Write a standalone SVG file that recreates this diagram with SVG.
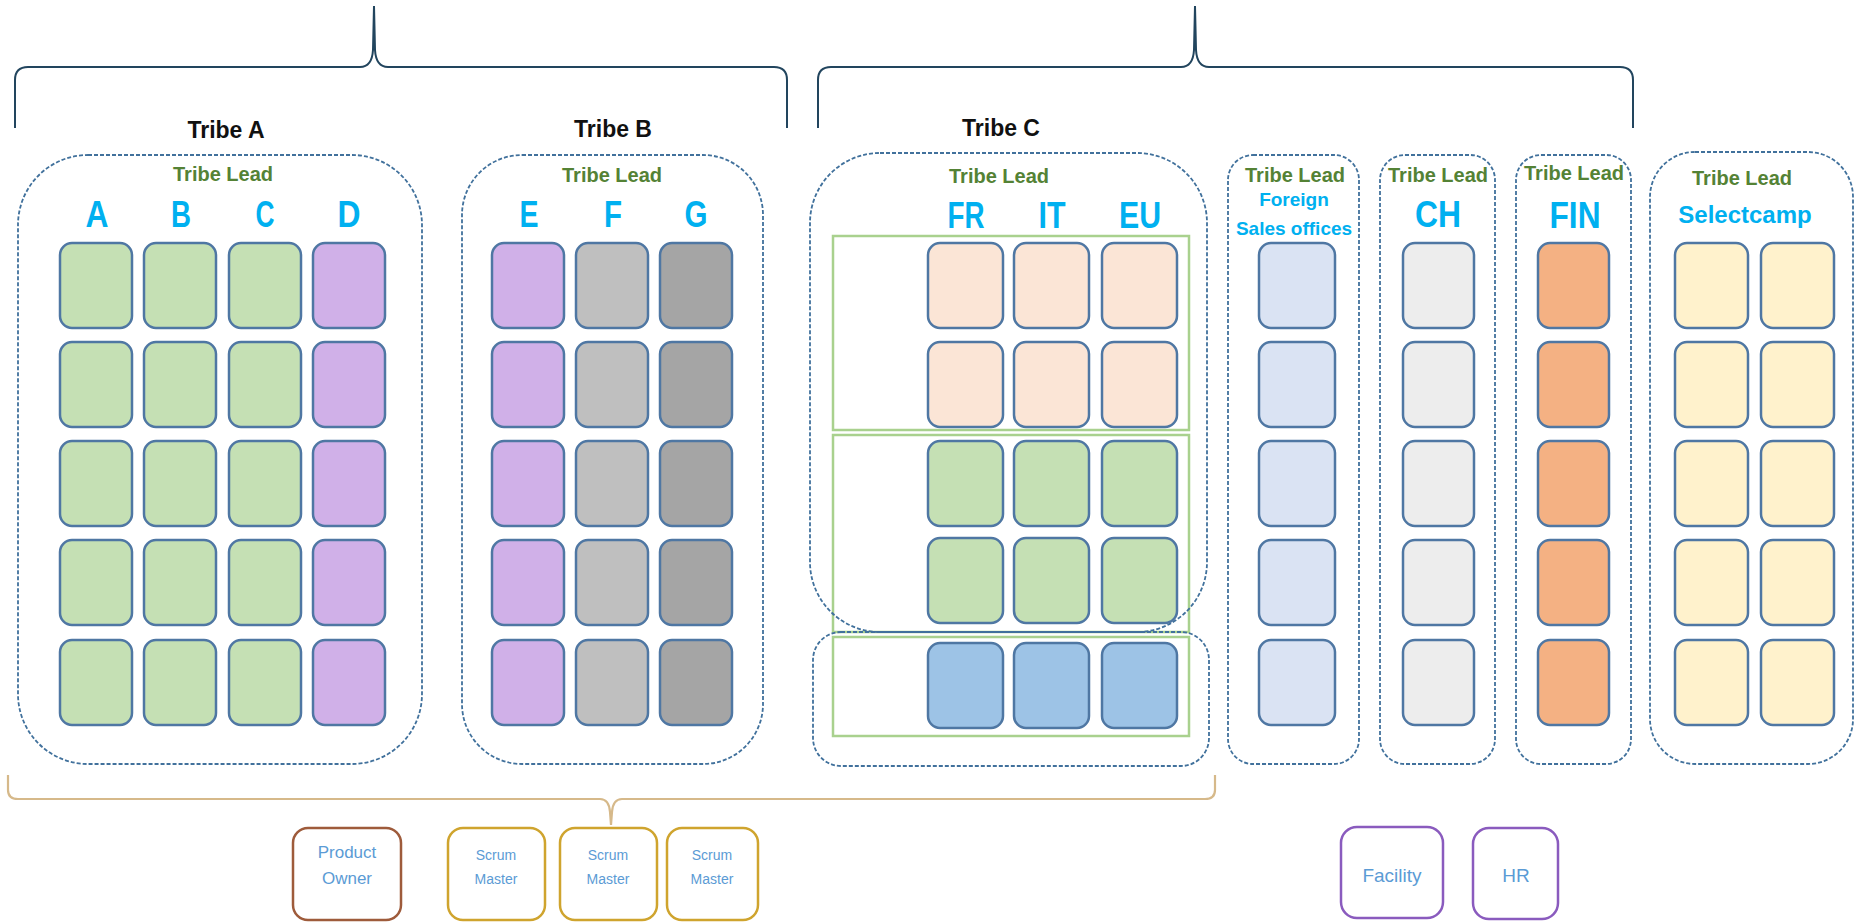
<svg xmlns="http://www.w3.org/2000/svg" width="1855" height="922" viewBox="0 0 1855 922">
<style>
.tile{stroke:#4F77A3;stroke-width:2.5}
.cont{fill:none;stroke:#41719C;stroke-width:1.8;stroke-dasharray:4 2}
.frame{fill:none;stroke:#A9D18E;stroke-width:2.5}
.brace{fill:none;stroke:#22455E;stroke-width:2}
.brace2{fill:none;stroke:#D6B98A;stroke-width:2.2}
.title{font-family:"Liberation Sans",Arial,sans-serif;font-weight:bold;font-size:23px;fill:#111;text-anchor:middle}
.lead{font-family:"Liberation Sans",Arial,sans-serif;font-weight:bold;font-size:20px;fill:#548235;text-anchor:middle}
.big{font-family:"Liberation Sans Narrow","Liberation Sans",Arial,sans-serif;font-weight:bold;font-size:37px;fill:#00B0F0;text-anchor:middle}
.blu{font-family:"Liberation Sans",Arial,sans-serif;font-weight:bold;fill:#00B0F0;text-anchor:middle}
.role{font-family:"Liberation Sans",Arial,sans-serif;fill:#5B9BD5;text-anchor:middle}
.g{fill:#C5E0B4}.p{fill:#D0B0E8}.lg{fill:#BFBFBF}.dg{fill:#A5A5A5}.pe{fill:#FBE5D6}.bl{fill:#9DC3E6}.lb{fill:#DAE3F3}.vg{fill:#EDEDED}.or{fill:#F4B183}.ye{fill:#FFF2CC}
</style>

<g id="connectors">
<path class="brace" d="M15,128 L15,80 Q15,67 28,67 L360,67 Q372,67 373,50 L374,6 L375,50 Q376,67 388,67 L774,67 Q787,67 787,80 L787,128"/>
<path class="brace" d="M818,128 L818,80 Q818,67 831,67 L1181,67 Q1193,67 1194,50 L1195,6 L1196,50 Q1197,67 1209,67 L1620,67 Q1633,67 1633,80 L1633,128"/>
<path class="brace2" d="M8,775 L8,790 Q8,799 18,799 L600,799 Q609,799 610,812 L611,825 L612,812 Q613,799 622,799 L1205,799 Q1215,799 1215,790 L1215,775"/>
</g>

<g id="tribeA">
<text class="title" x="226" y="138">Tribe A</text>
<rect class="cont" x="18" y="155" width="404" height="609" rx="70"/>
<text class="lead" x="223" y="181">Tribe Lead</text>
<text class="big" x="97" y="227" textLength="23" lengthAdjust="spacingAndGlyphs">A</text>
<text class="big" x="181" y="227" textLength="20" lengthAdjust="spacingAndGlyphs">B</text>
<text class="big" x="265" y="227" textLength="19" lengthAdjust="spacingAndGlyphs">C</text>
<text class="big" x="349" y="227" textLength="23" lengthAdjust="spacingAndGlyphs">D</text>
<g class="tile">
<rect class="g" x="60" y="243" width="72" height="85" rx="12"/><rect class="g" x="144" y="243" width="72" height="85" rx="12"/><rect class="g" x="229" y="243" width="72" height="85" rx="12"/><rect class="p" x="313" y="243" width="72" height="85" rx="12"/>
<rect class="g" x="60" y="342" width="72" height="85" rx="12"/><rect class="g" x="144" y="342" width="72" height="85" rx="12"/><rect class="g" x="229" y="342" width="72" height="85" rx="12"/><rect class="p" x="313" y="342" width="72" height="85" rx="12"/>
<rect class="g" x="60" y="441" width="72" height="85" rx="12"/><rect class="g" x="144" y="441" width="72" height="85" rx="12"/><rect class="g" x="229" y="441" width="72" height="85" rx="12"/><rect class="p" x="313" y="441" width="72" height="85" rx="12"/>
<rect class="g" x="60" y="540" width="72" height="85" rx="12"/><rect class="g" x="144" y="540" width="72" height="85" rx="12"/><rect class="g" x="229" y="540" width="72" height="85" rx="12"/><rect class="p" x="313" y="540" width="72" height="85" rx="12"/>
<rect class="g" x="60" y="640" width="72" height="85" rx="12"/><rect class="g" x="144" y="640" width="72" height="85" rx="12"/><rect class="g" x="229" y="640" width="72" height="85" rx="12"/><rect class="p" x="313" y="640" width="72" height="85" rx="12"/>
</g>
</g>

<g id="tribeB">
<text class="title" x="613" y="137">Tribe B</text>
<rect class="cont" x="462" y="155" width="301" height="609" rx="60"/>
<text class="lead" x="612" y="182">Tribe Lead</text>
<text class="big" x="529" y="227" textLength="19" lengthAdjust="spacingAndGlyphs">E</text>
<text class="big" x="613" y="227" textLength="18" lengthAdjust="spacingAndGlyphs">F</text>
<text class="big" x="696" y="227" textLength="23" lengthAdjust="spacingAndGlyphs">G</text>
<g class="tile">
<rect class="p" x="492" y="243" width="72" height="85" rx="12"/><rect class="lg" x="576" y="243" width="72" height="85" rx="12"/><rect class="dg" x="660" y="243" width="72" height="85" rx="12"/>
<rect class="p" x="492" y="342" width="72" height="85" rx="12"/><rect class="lg" x="576" y="342" width="72" height="85" rx="12"/><rect class="dg" x="660" y="342" width="72" height="85" rx="12"/>
<rect class="p" x="492" y="441" width="72" height="85" rx="12"/><rect class="lg" x="576" y="441" width="72" height="85" rx="12"/><rect class="dg" x="660" y="441" width="72" height="85" rx="12"/>
<rect class="p" x="492" y="540" width="72" height="85" rx="12"/><rect class="lg" x="576" y="540" width="72" height="85" rx="12"/><rect class="dg" x="660" y="540" width="72" height="85" rx="12"/>
<rect class="p" x="492" y="640" width="72" height="85" rx="12"/><rect class="lg" x="576" y="640" width="72" height="85" rx="12"/><rect class="dg" x="660" y="640" width="72" height="85" rx="12"/>
</g>
</g>

<g id="tribeC">
<text class="title" x="1001" y="136">Tribe C</text>
<rect class="frame" x="833" y="236" width="356" height="194"/>
<rect class="frame" x="833" y="435" width="356" height="197"/>
<rect class="frame" x="833" y="637" width="356" height="99"/>
<rect class="cont" x="810" y="153" width="397" height="479" rx="70"/>
<rect class="cont" x="813" y="632" width="396" height="134" rx="28"/>
<text class="lead" x="999" y="183">Tribe Lead</text>
<text class="big" x="966" y="228" textLength="37" lengthAdjust="spacingAndGlyphs">FR</text>
<text class="big" x="1052" y="228" textLength="27" lengthAdjust="spacingAndGlyphs">IT</text>
<text class="big" x="1140" y="228" textLength="42" lengthAdjust="spacingAndGlyphs">EU</text>
<g class="tile">
<rect class="pe" x="928" y="243" width="75" height="85" rx="12"/><rect class="pe" x="1014" y="243" width="75" height="85" rx="12"/><rect class="pe" x="1102" y="243" width="75" height="85" rx="12"/>
<rect class="pe" x="928" y="342" width="75" height="85" rx="12"/><rect class="pe" x="1014" y="342" width="75" height="85" rx="12"/><rect class="pe" x="1102" y="342" width="75" height="85" rx="12"/>
<rect class="g" x="928" y="441" width="75" height="85" rx="12"/><rect class="g" x="1014" y="441" width="75" height="85" rx="12"/><rect class="g" x="1102" y="441" width="75" height="85" rx="12"/>
<rect class="g" x="928" y="538" width="75" height="85" rx="12"/><rect class="g" x="1014" y="538" width="75" height="85" rx="12"/><rect class="g" x="1102" y="538" width="75" height="85" rx="12"/>
<rect class="bl" x="928" y="643" width="75" height="85" rx="12"/><rect class="bl" x="1014" y="643" width="75" height="85" rx="12"/><rect class="bl" x="1102" y="643" width="75" height="85" rx="12"/>
</g>
</g>

<g id="foreign">
<rect class="cont" x="1228" y="155" width="131" height="609" rx="25"/>
<text class="lead" x="1295" y="182">Tribe Lead</text>
<text class="blu" x="1294" y="206" font-size="19">Foreign</text>
<text class="blu" x="1294" y="235" font-size="19">Sales offices</text>
<g class="tile">
<rect class="lb" x="1259" y="243" width="76" height="85" rx="12"/>
<rect class="lb" x="1259" y="342" width="76" height="85" rx="12"/>
<rect class="lb" x="1259" y="441" width="76" height="85" rx="12"/>
<rect class="lb" x="1259" y="540" width="76" height="85" rx="12"/>
<rect class="lb" x="1259" y="640" width="76" height="85" rx="12"/>
</g>
</g>

<g id="ch">
<rect class="cont" x="1380" y="155" width="115" height="609" rx="25"/>
<text class="lead" x="1438" y="182">Tribe Lead</text>
<text class="big" x="1438" y="227" textLength="46" lengthAdjust="spacingAndGlyphs">CH</text>
<g class="tile">
<rect class="vg" x="1403" y="243" width="71" height="85" rx="12"/>
<rect class="vg" x="1403" y="342" width="71" height="85" rx="12"/>
<rect class="vg" x="1403" y="441" width="71" height="85" rx="12"/>
<rect class="vg" x="1403" y="540" width="71" height="85" rx="12"/>
<rect class="vg" x="1403" y="640" width="71" height="85" rx="12"/>
</g>
</g>

<g id="fin">
<rect class="cont" x="1516" y="155" width="115" height="609" rx="25"/>
<text class="lead" x="1574" y="180">Tribe Lead</text>
<text class="big" x="1575" y="228" textLength="51" lengthAdjust="spacingAndGlyphs">FIN</text>
<g class="tile">
<rect class="or" x="1538" y="243" width="71" height="85" rx="12"/>
<rect class="or" x="1538" y="342" width="71" height="85" rx="12"/>
<rect class="or" x="1538" y="441" width="71" height="85" rx="12"/>
<rect class="or" x="1538" y="540" width="71" height="85" rx="12"/>
<rect class="or" x="1538" y="640" width="71" height="85" rx="12"/>
</g>
</g>

<g id="selectcamp">
<rect class="cont" x="1650" y="152" width="203" height="612" rx="45"/>
<text class="lead" x="1742" y="185">Tribe Lead</text>
<text class="blu" x="1745" y="223" font-size="24">Selectcamp</text>
<g class="tile">
<rect class="ye" x="1675" y="243" width="73" height="85" rx="12"/><rect class="ye" x="1761" y="243" width="73" height="85" rx="12"/>
<rect class="ye" x="1675" y="342" width="73" height="85" rx="12"/><rect class="ye" x="1761" y="342" width="73" height="85" rx="12"/>
<rect class="ye" x="1675" y="441" width="73" height="85" rx="12"/><rect class="ye" x="1761" y="441" width="73" height="85" rx="12"/>
<rect class="ye" x="1675" y="540" width="73" height="85" rx="12"/><rect class="ye" x="1761" y="540" width="73" height="85" rx="12"/>
<rect class="ye" x="1675" y="640" width="73" height="85" rx="12"/><rect class="ye" x="1761" y="640" width="73" height="85" rx="12"/>
</g>
</g>

<g id="productOwner">
<rect x="293" y="828" width="108" height="92" rx="15" fill="#fff" stroke="#9E5B3B" stroke-width="2.5"/>
<text class="role" x="347" y="858" font-size="17">Product</text>
<text class="role" x="347" y="884" font-size="17">Owner</text>
</g>
<g id="scrum1">
<rect x="448" y="828" width="97" height="92" rx="15" fill="#fff" stroke="#CFA42E" stroke-width="2.5"/>
<text class="role" x="496" y="860" font-size="14">Scrum</text>
<text class="role" x="496" y="884" font-size="14">Master</text>
</g>
<g id="scrum2">
<rect x="560" y="828" width="97" height="92" rx="15" fill="#fff" stroke="#CFA42E" stroke-width="2.5"/>
<text class="role" x="608" y="860" font-size="14">Scrum</text>
<text class="role" x="608" y="884" font-size="14">Master</text>
</g>
<g id="scrum3">
<rect x="667" y="828" width="91" height="92" rx="15" fill="#fff" stroke="#CFA42E" stroke-width="2.5"/>
<text class="role" x="712" y="860" font-size="14">Scrum</text>
<text class="role" x="712" y="884" font-size="14">Master</text>
</g>
<g id="facility">
<rect x="1341" y="827" width="102" height="91" rx="16" fill="#fff" stroke="#8A5BBE" stroke-width="2.5"/>
<text class="role" x="1392" y="882" font-size="19">Facility</text>
</g>
<g id="hr">
<rect x="1473" y="828" width="85" height="91" rx="16" fill="#fff" stroke="#8A5BBE" stroke-width="2.5"/>
<text class="role" x="1516" y="882" font-size="19">HR</text>
</g>
</svg>
